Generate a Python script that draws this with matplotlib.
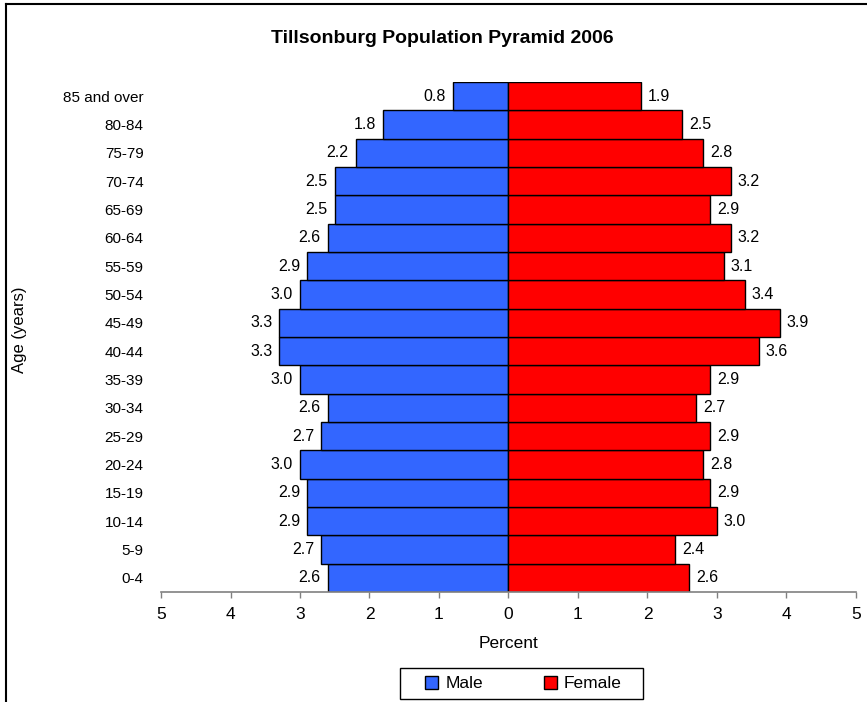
import numpy as np
import matplotlib.pyplot as plt
from matplotlib.patches import Patch, Rectangle
from matplotlib.lines import Line2D
from matplotlib.ticker import FuncFormatter

plt.rcParams['font.family'] = ['Liberation Sans', 'DejaVu Sans']

age_groups = ['0-4', '5-9', '10-14', '15-19', '20-24', '25-29', '30-34', '35-39', '40-44',
              '45-49', '50-54', '55-59', '60-64', '65-69', '70-74', '75-79', '80-84', '85 and over']
male = [2.6, 2.7, 2.9, 2.9, 3.0, 2.7, 2.6, 3.0, 3.3, 3.3, 3.0, 2.9, 2.6, 2.5, 2.5, 2.2, 1.8, 0.8]
female = [2.6, 2.4, 3.0, 2.9, 2.8, 2.9, 2.7, 2.9, 3.6, 3.9, 3.4, 3.1, 3.2, 2.9, 3.2, 2.8, 2.5, 1.9]

male_color = '#3366FF'
female_color = '#FF0000'

W, H = 867, 702
fig = plt.figure(figsize=(W / 100, H / 100), dpi=100)
ax = fig.add_axes([0.1857, 0.1567, 0.8016, 0.7265])

y = np.arange(len(age_groups))
mbars = ax.barh(y, -np.array(male), height=1.0, color=male_color, edgecolor='black', linewidth=1)
fbars = ax.barh(y, female, height=1.0, color=female_color, edgecolor='black', linewidth=1)
ax.bar_label(mbars, labels=['%.1f' % v for v in male], padding=5, fontsize=11.5)
ax.bar_label(fbars, labels=['%.1f' % v for v in female], padding=5, fontsize=11.5)

ax.set_xlim(-5, 5)
ax.set_ylim(-0.5, len(age_groups) - 0.5)
ax.set_xticks(range(-5, 6))
ax.xaxis.set_major_formatter(FuncFormatter(lambda v, p: '%d' % abs(v)))
ax.set_yticks(y)
ax.set_yticklabels(age_groups, fontsize=11)
ax.tick_params(axis='y', length=0, pad=12.5)
ax.tick_params(axis='x', length=4, width=1, color='#808080', labelsize=12.5, pad=7)
for s in ['top', 'right', 'left']:
    ax.spines[s].set_visible(False)
ax.spines['bottom'].set_color('#808080')
ax.spines['bottom'].set_linewidth(1.2)

ax.set_xlabel('Percent', fontsize=12.5, labelpad=10)
fig.text(20 / W, 0.53, 'Age (years)', rotation=90, ha='center', va='center', fontsize=12)
fig.text(442.5 / W, 0.9445, 'Tillsonburg Population Pyramid 2006', ha='center', va='center',
         fontsize=14, fontweight='bold')

# legend entries without frame, box drawn separately
handles = [Patch(facecolor=male_color, edgecolor='black', label='Male'),
           Patch(facecolor=female_color, edgecolor='black', label='Female')]
leg = fig.legend(handles=handles, loc='center', bbox_to_anchor=(523.5 / W, 1 - 683.5 / H), ncol=2,
                 fontsize=12.5, frameon=False, handlelength=0.75, handleheight=0.75,
                 handletextpad=0.4, columnspacing=3.5, borderpad=0, borderaxespad=0)
fig.add_artist(Rectangle((400 / W, 1 - 699 / H), 243 / W, 31 / H, transform=fig.transFigure,
                         facecolor='none', edgecolor='black', linewidth=1))

# chart area border (left and top)
fig.add_artist(Line2D([0.0065, 0.0065], [0, 0.9943], color='black', linewidth=1.5))
fig.add_artist(Line2D([0.0065, 1], [0.9943, 0.9943], color='black', linewidth=1.5))

fig.savefig('out.png', dpi=100)
